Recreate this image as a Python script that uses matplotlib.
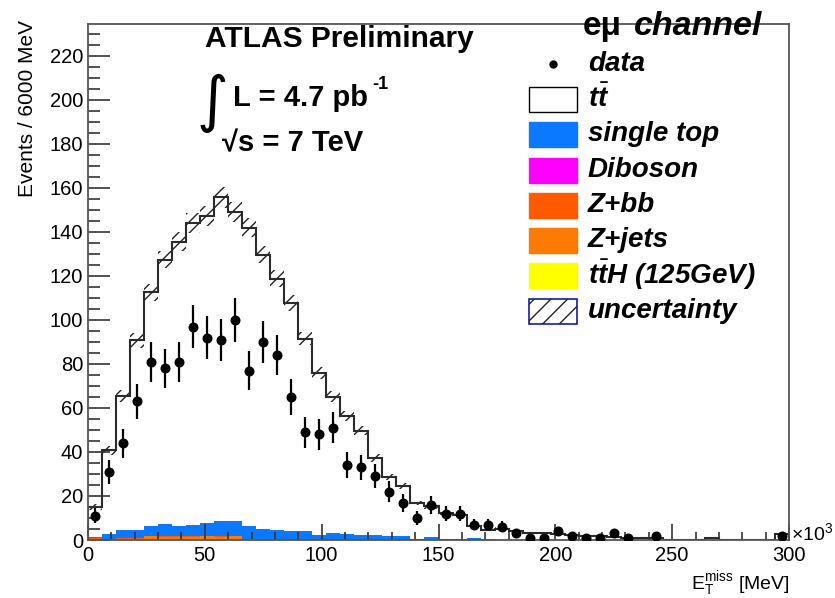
import numpy as np
import matplotlib
matplotlib.use("Agg")
import matplotlib.pyplot as plt
from matplotlib.patches import Rectangle
from matplotlib.lines import Line2D
from matplotlib.transforms import Affine2D

plt.rcParams['font.family'] = ['Liberation Sans', 'DejaVu Sans']
plt.rcParams['mathtext.fontset'] = 'custom'
plt.rcParams['mathtext.rm'] = 'Liberation Sans'
plt.rcParams['mathtext.it'] = 'Liberation Sans:italic:bold'
plt.rcParams['mathtext.bf'] = 'Liberation Sans:bold'
plt.rcParams['hatch.linewidth'] = 1.0

# binning: 50 bins of 6000 MeV, axis in units of 10^3 MeV
edges = np.arange(0, 301, 6)

# observed events per bin
data = [11, 31, 44, 63, 81, 78, 81, 97, 92, 91,
        100, 77, 90, 84, 65, 49, 48, 51, 34, 33,
        29, 22, 17, 10, 16, 12, 12, 7, 7, 6,
        3, 1, 1, 4, 2, 1, 1, 3, 1, 0,
        2, 0, 0, 0, 0, 0, 0, 0, 0, 2]

# stacked predictions (bottom to top)
tth = [0.0, 0.0, 0.01, 0.02, 0.02, 0.03, 0.03, 0.03, 0.03, 0.03,
       0.03, 0.03, 0.02, 0.02, 0.02, 0.02, 0.01, 0.01, 0.01, 0.01,
       0.01, 0.01, 0.0, 0.0, 0.0, 0.0, 0.0, 0.0, 0.0, 0.0,
       0.0, 0.0, 0.0, 0.0, 0.0, 0.0, 0.0, 0.0, 0.0, 0.0,
       0.0, 0.0, 0.0, 0.0, 0.0, 0.0, 0.0, 0.0, 0.0, 0.0]
zjets = [0.2, 0.3, 0.6, 0.6, 1.6, 1.5, 1.3, 1.3, 1.6, 1.5,
         1.6, 0.2, 0.2, 0.2, 0.1, 0.1, 0.1, 0.1, 0.1, 0.1,
         0.1, 0.5, 0.0, 0.0, 0.0, 0.0, 0.0, 0.0, 0.0, 0.0,
         0.0, 0.0, 0.0, 0.0, 0.0, 0.0, 0.0, 0.0, 0.0, 0.0,
         0.0, 0.0, 0.0, 0.0, 0.0, 0.0, 0.0, 0.0, 0.0, 0.0]
zbb = [0.9, 0.3, 0.2, 0.2, 0.3, 0.3, 0.3, 0.3, 0.3, 0.3,
       0.3, 0.1, 0.1, 0.1, 0.1, 0.1, 0.1, 0.0, 0.0, 0.0,
       0.0, 0.0, 0.0, 0.0, 0.0, 0.0, 0.0, 0.0, 0.0, 0.0,
       0.0, 0.0, 0.0, 0.0, 0.0, 0.0, 0.0, 0.0, 0.0, 0.0,
       0.0, 0.0, 0.0, 0.0, 0.0, 0.0, 0.0, 0.0, 0.0, 0.0]
diboson = [0.0, 0.0, 0.05, 0.05, 0.1, 0.6, 0.1, 0.5, 0.1, 0.6,
           0.1, 0.05, 0.05, 0.05, 0.05, 0.05, 0.0, 0.0, 0.0, 0.0,
           0.0, 0.0, 0.0, 0.0, 0.0, 0.0, 0.0, 0.0, 0.0, 0.0,
           0.0, 0.0, 0.0, 0.0, 0.0, 0.0, 0.0, 0.0, 0.0, 0.0,
           0.0, 0.0, 0.0, 0.0, 0.0, 0.0, 0.0, 0.0, 0.0, 0.0]
single_top = [0.3, 2.3, 3.85, 3.85, 4.5, 5.0, 4.8, 4.9, 5.7, 6.4,
              6.8, 6.15, 4.75, 4.35, 3.95, 3.65, 1.9, 3.1, 2.6, 2.3,
              2.3, 1.1, 1.6, 0.5, 1.4, 0.3, 0.3, 0.9, 0.3, 0.2,
              0.2, 0.1, 0.0, 0.0, 0.0, 0.0, 0.0, 0.0, 0.0, 0.0,
              0.0, 0.0, 0.0, 0.0, 0.0, 0.0, 0.0, 0.0, 0.0, 0.0]
ttbar = [13.6, 37.8, 60.6, 86.0, 106.1, 120.0, 129.1, 137.1, 139.4, 146.9,
         140.1, 135.3, 124.6, 114.1, 103.5, 87.6, 73.8, 61.8, 53.5, 47.3,
         34.9, 27.0, 22.8, 16.3, 13.9, 12.0, 11.2, 5.3, 4.4, 5.0,
         3.8, 3.2, 3.0, 2.8, 2.3, 2.0, 1.8, 1.5, 1.0, 0.9,
         0.8, 0.2, 0.0, 0.0, 1.0, 0.0, 0.0, 0.0, 0.0, 2.5]
# half width of the hatched uncertainty band
uncert = [1.2, 2.2, 2.8, 3.4, 3.8, 4.0, 4.2, 4.4, 4.5, 4.7,
          4.5, 4.3, 4.0, 3.8, 3.5, 3.1, 2.8, 2.5, 2.3, 2.1,
          1.8, 1.5, 1.4, 1.1, 1.1, 0.9, 0.9, 0.6, 0.5, 0.5,
          0.5, 0.4, 0.4, 0.4, 0.3, 0.3, 0.3, 0.3, 0.2, 0.2,
          0.2, 0.1, 0.0, 0.0, 0.2, 0.0, 0.0, 0.0, 0.0, 0.4]

stack = [tth, zjets, zbb, diboson, single_top, ttbar]
colors = ['#ffff00', '#ff7a00', '#ff5a00', '#ff00ff', '#0a78ff', 'white']

fig = plt.figure(figsize=(8.35, 5.98), dpi=100)
ax = fig.add_axes([88 / 835, 1 - 540 / 598, 701 / 835, 516 / 598])

# pixel coords for annotations (origin top left)
pix = Affine2D().scale(1 / 835, -1 / 598).translate(0, 1) + fig.transFigure

bottom = np.zeros(len(edges) - 1)
for vals, col in zip(stack, colors):
    top = bottom + np.array(vals)
    ax.stairs(top, edges, baseline=bottom, fill=True, color=col, lw=0)
    bottom = top
total = bottom
err = np.array(uncert)

ax.stairs(total + err, edges, baseline=total - err, fill=True,
          facecolor='none', edgecolor='#222222', hatch='///', lw=0)
ax.stairs(total, edges, baseline=0, color='#2a2a2a', lw=1.5)

centers = 0.5 * (edges[1:] + edges[:-1])
d = np.array(data, dtype=float)
m = d > 0
ax.errorbar(centers[m], d[m], yerr=np.sqrt(d[m]), fmt='o', color='black',
            ms=6.2, elinewidth=1.6, capsize=0, zorder=5)

ax.set_xlim(0, 300)
ax.set_ylim(0, 234.5)
ax.set_xticks(np.arange(0, 301, 50))
ax.set_xticks(np.arange(0, 301, 10), minor=True)
ax.set_yticks(np.arange(0, 221, 20))
ax.set_yticks(np.arange(0, 235, 5), minor=True)
ax.tick_params(axis='both', which='both', direction='in', colors='#333333',
               labelcolor='black', labelsize=14.5, top=False, right=False)
ax.tick_params(axis='y', which='major', length=16, width=1.2, pad=3.5)
ax.tick_params(axis='y', which='minor', length=8.5, width=1.2)
ax.tick_params(axis='x', which='major', length=11.5, width=1.2, pad=4.5)
ax.tick_params(axis='x', which='minor', length=5.5, width=1.2)
for s in ax.spines.values():
    s.set_color('#555555')
    s.set_linewidth(1.3)

fig.text(28, 20, 'Events / 6000 MeV', rotation=90, ha='center', va='top',
         fontsize=15, transform=pix)
fig.text(790, 589, r'E$_{\rm T}^{\rm miss}$ [MeV]', ha='right', va='baseline',
         fontsize=14, transform=pix)
fig.text(791, 540, r'$\times$10$^{\rm 3}$', ha='left', va='baseline',
         fontsize=14, transform=pix)

# ATLAS label block
fig.text(205, 47, 'ATLAS Preliminary', fontsize=21.5, fontweight='bold',
         ha='left', va='baseline', transform=pix)
fig.text(212, 120, '\u222b', fontsize=44, ha='center', va='baseline',
         family=['DejaVu Sans'], transform=pix)
fig.text(233, 106.5, 'L = 4.7 pb', fontsize=21, fontweight='bold',
         ha='left', va='baseline', transform=pix)
fig.text(372, 89, '-1', fontsize=13, fontweight='bold',
         ha='left', va='baseline', transform=pix)
fig.text(222, 151.5, '\u221as = 7 TeV', fontsize=21, fontweight='bold',
         ha='left', va='baseline', transform=pix)

# channel title
fig.text(583, 35, 'e\u03bc', fontsize=24, fontweight='bold',
         ha='left', va='baseline', transform=pix)
fig.text(634, 35, 'channel', fontsize=24.5, fontweight='bold', fontstyle='italic',
         ha='left', va='baseline', transform=pix)

# legend
labels = ['data', r'$t\bar{t}$', 'single top', 'Diboson', 'Z+bb', 'Z+jets',
          r'$t\bar{t}$H (125GeV)', 'uncertainty']
ys = [64, 99, 134, 170, 205, 240, 275, 311]
box_cols = [None, 'white', '#0a78ff', '#ff00ff', '#ff5a00', '#ff7a00', '#ffff00', None]
for lab, y, col in zip(labels, ys, box_cols):
    fig.text(588, y, lab, fontsize=20, fontweight='bold', fontstyle='italic',
             ha='left', va='center', transform=pix)
    if lab == 'data':
        fig.add_artist(Line2D([553], [y], marker='o', ms=5, color='black',
                              transform=pix))
    elif lab == 'uncertainty':
        fig.add_artist(Rectangle((529, y - 12.5), 48, 25, facecolor='white',
                                 edgecolor='#222222', hatch='//', lw=0,
                                 transform=pix))
        fig.add_artist(Rectangle((529, y - 12.5), 48, 25, fill=False,
                                 edgecolor='#1a1aa0', lw=1.2, transform=pix))
    else:
        ec = 'black' if col == 'white' else col
        fig.add_artist(Rectangle((529, y - 12.5), 48, 25, facecolor=col,
                                 edgecolor=ec, lw=1.0, transform=pix))

fig.savefig('out.png', dpi=100)
